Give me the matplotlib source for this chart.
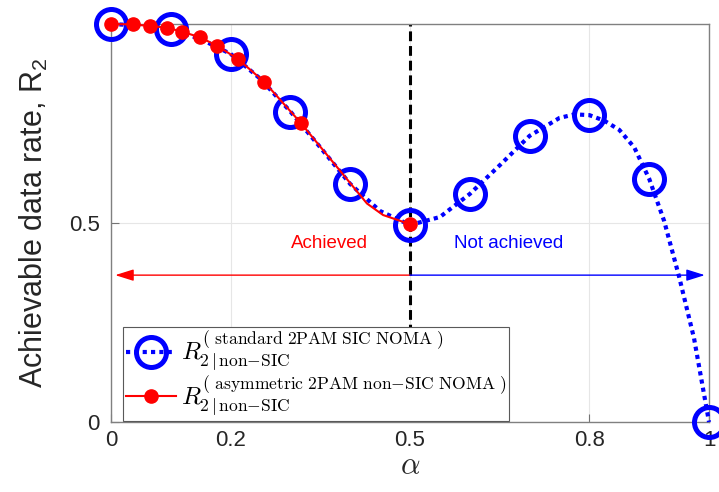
import matplotlib
matplotlib.use('Agg')
import matplotlib.pyplot as plt
from matplotlib.font_manager import FontProperties

plt.rcParams['font.family'] = ['Liberation Sans', 'DejaVu Sans']
plt.rcParams['mathtext.fontset'] = 'custom'
plt.rcParams['mathtext.rm'] = 'Liberation Sans'
plt.rcParams['mathtext.it'] = 'Liberation Sans:italic'

## 데이터
alpha_std = [0, 0.05, 0.1, 0.15, 0.2, 0.25, 0.3, 0.35, 0.4, 0.45, 0.5,
             0.55, 0.6, 0.65, 0.7, 0.75, 0.775, 0.8, 0.825, 0.85, 0.875, 0.9,
             0.925, 0.95, 0.975, 1.0]
rate_std = [1.0, 0.996, 0.987, 0.962, 0.925, 0.862, 0.780, 0.69, 0.598, 0.53, 0.495,
            0.515, 0.573, 0.645, 0.719, 0.764, 0.773, 0.771, 0.757, 0.734, 0.690, 0.611,
            0.505, 0.365, 0.21, 0.0]
std_marks = [0, 2, 4, 6, 8, 10, 12, 14, 17, 21, 25]

alpha_asym = [0, 0.036, 0.065, 0.093, 0.118, 0.148, 0.178, 0.213, 0.256, 0.317,
              0.428, 0.455, 0.5]
rate_asym = [1.0, 0.999, 0.995, 0.991, 0.981, 0.967, 0.945, 0.911, 0.855, 0.752,
             0.549, 0.520, 0.497]
asym_marks = [0, 1, 2, 3, 4, 5, 6, 7, 8, 9, 12]

alpha_split = 0.5
arrow_y = 0.369
xticks = [0, 0.2, 0.5, 0.8, 1]
xtick_labels = ['0', '0.2', '0.5', '0.8', '1']
yticks = [0, 0.5]
ytick_labels = ['0', '0.5']

lab_std = r'$R_{2\,|\,\mathrm{non}{-}\mathrm{SIC}}^{(\ \mathrm{standard\ 2PAM\ SIC\ NOMA}\ )}$'
lab_asym = r'$R_{2\,|\,\mathrm{non}{-}\mathrm{SIC}}^{(\ \mathrm{asymmetric\ 2PAM\ non}{-}\mathrm{SIC\ NOMA}\ )}$'

## 그래프 작도
fig = plt.figure(figsize=(7.19, 4.92), dpi=100)
ax = fig.add_axes([0.1544, 0.1423, 0.8317, 0.8089])

ax.plot(alpha_std, rate_std, color='#0000ff', lw=3, linestyle=(0, (1, 1)),
        dash_capstyle='butt', marker='o', markevery=std_marks, markersize=21.6,
        markerfacecolor='none', markeredgecolor='#0000ff', markeredgewidth=3.6,
        clip_on=False, zorder=3, label=lab_std)
ax.plot(alpha_asym, rate_asym, color='#ff0000', lw=1.5, marker='o',
        markevery=asym_marks, markersize=9.5, markerfacecolor='#ff0000',
        markeredgecolor='#ff0000', clip_on=False, zorder=4, label=lab_asym)

ax.axvline(alpha_split, color='black', lw=2.2, linestyle=(0, (3.2, 1.6)), zorder=2)

## 화살표와 텍스트
ax.annotate('', xy=(0.007, arrow_y), xytext=(alpha_split, arrow_y),
            arrowprops=dict(arrowstyle='-|>,head_length=0.7,head_width=0.22',
                            color='#ff0000', lw=1.0, mutation_scale=16,
                            shrinkA=0, shrinkB=0))
ax.annotate('', xy=(0.993, arrow_y), xytext=(alpha_split, arrow_y),
            arrowprops=dict(arrowstyle='-|>,head_length=0.7,head_width=0.22',
                            color='#0000ff', lw=1.0, mutation_scale=16,
                            shrinkA=0, shrinkB=0))
ax.text(0.366, 0.448, 'Achieved', color='#ff0000', fontsize=13.5,
        ha='center', va='center')
ax.text(0.665, 0.448, 'Not achieved', color='#0000ff', fontsize=13.5,
        ha='center', va='center')

ax.set_xlim(0, 1)
ax.set_ylim(0, 1)
ax.set_xticks(xticks)
ax.set_xticklabels(xtick_labels)
ax.set_yticks(yticks)
ax.set_yticklabels(ytick_labels)
ax.tick_params(direction='in', length=6, width=0.8, labelsize=16,
               colors='0.45', labelcolor='0.15')
ax.tick_params(axis='x', pad=6)
ax.tick_params(axis='y', pad=8)
ax.grid(True, color='0.9', lw=0.8)
ax.set_axisbelow(True)
for sp in ax.spines.values():
    sp.set_color('0.5')
    sp.set_linewidth(1.0)

ax.set_ylabel(r'Achievable data rate, R$_\mathregular{2}$', fontsize=22,
              color='0.15', labelpad=14)
ax.set_xlabel(r'$\alpha$', fontsize=22, color='0.15', labelpad=0,
              math_fontfamily='cm')

leg_font = FontProperties(family='Liberation Sans', size=18, math_fontfamily='cm')
leg = ax.legend(loc='upper left', bbox_to_anchor=(0.02, 0.239), borderaxespad=0,
                prop=leg_font, handlelength=2.0, handletextpad=0.2,
                labelspacing=0.05, borderpad=0.12, fancybox=False,
                framealpha=1, edgecolor='0.35')
leg.get_frame().set_linewidth(0.8)
leg.set_zorder(5)

plt.savefig('out.png', dpi=100)
